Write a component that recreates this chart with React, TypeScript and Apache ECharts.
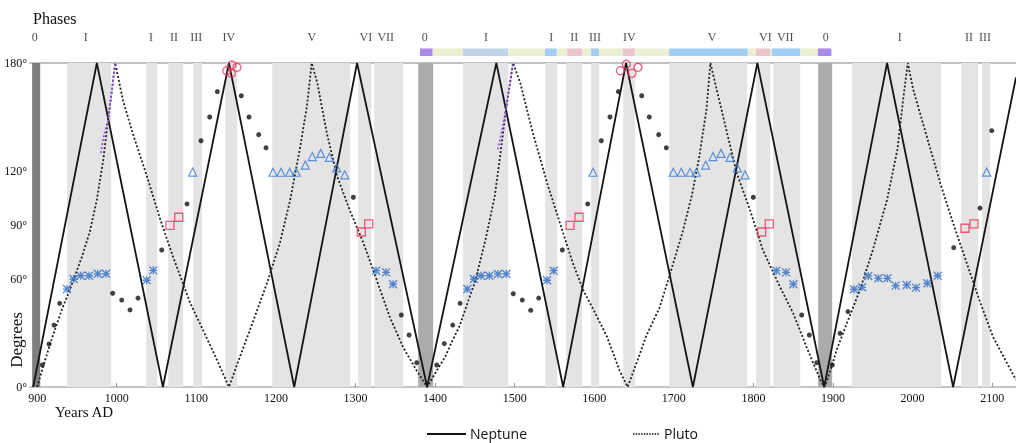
import React, { useEffect, useRef } from 'react';
import * as echarts from 'echarts';

const xTickValues = [900, 1000, 1100, 1200, 1300, 1400, 1500, 1600, 1700, 1800, 1900, 2000, 2100];
const yLabelValues = [0, 60, 90, 120, 180];

const neptune = [
  [895, 0], [975, 180], [1058, 0], [1141, 180], [1223, 0], [1302, 180], [1390, 0], [1477, 180],
  [1561, 0], [1640, 180], [1724, 0], [1805, 180], [1889, 0], [1968, 180], [2051, 0], [2130, 172],
];

const pluto = [
  [900, 0], [910, 15], [920, 29], [931, 43], [941, 54], [956, 72], [966, 86], [975, 104], [983, 126], [989, 148], [994, 165], [998, 180],
  [1008, 159], [1020, 141], [1038, 117], [1054, 94], [1071, 72], [1092, 47], [1108, 32], [1126, 15], [1141, 0],
  [1155, 17], [1171, 36], [1189, 58], [1205, 80], [1218, 104], [1230, 132], [1239, 156], [1245, 180],
  [1252, 169], [1264, 141], [1277, 117], [1293, 98], [1310, 80], [1327, 59], [1343, 39], [1360, 22], [1377, 9], [1390, 0],
  [1402, 9], [1413, 17], [1421, 25], [1431, 34], [1441, 47], [1450, 58], [1464, 83], [1475, 106], [1482, 129], [1489, 154], [1498, 180],
  [1507, 169], [1523, 141], [1541, 113], [1557, 91], [1573, 69], [1586, 54], [1599, 43], [1616, 28], [1632, 9], [1642, 0],
  [1657, 18], [1665, 28], [1682, 44], [1694, 61], [1711, 86], [1723, 107], [1732, 128], [1741, 154], [1746, 180],
  [1754, 165], [1767, 141], [1779, 119], [1796, 98], [1812, 76], [1833, 56], [1850, 41], [1867, 22], [1884, 4], [1889, 0],
  [1893, 4], [1905, 21], [1918, 36], [1934, 54], [1950, 76], [1968, 104], [1981, 132], [1988, 159], [1994, 180],
  [2001, 165], [2018, 139], [2035, 113], [2051, 91], [2068, 69], [2085, 47], [2101, 28], [2119, 13], [2130, 4],
];

const plutoHighlightA = [[980, 130], [983, 138], [989, 148], [994, 165], [998, 180]];
const plutoHighlightB = [[1479, 132], [1482, 138], [1489, 154], [1498, 180]];

const blackDots = [
  [906.5, 12.2], [914.9, 23.9], [921.2, 34.4], [928.3, 46.5], [994.9, 52.1], [1006.2, 48.3], [1016.7, 42.8], [1026.7, 49.4],
  [1056.5, 76.1], [1088.3, 101.7], [1105.9, 136.8], [1116.8, 150], [1126.4, 164.1], [1156.5, 161.8], [1166.2, 150],
  [1178.4, 140.2], [1187.6, 132.9], [1297.3, 105.4], [1357.6, 40], [1367.3, 28.9], [1376.9, 13.5],
  [1402.1, 12.2], [1411.6, 24.1], [1422.2, 34.4], [1431.4, 46.5], [1498.3, 51.8], [1509.6, 48.3], [1520.2, 42.6], [1530.2, 49.4],
  [1559.9, 76.1], [1591.8, 101.7], [1608.9, 136.8], [1619.8, 150], [1630.3, 164.1], [1659.7, 161.8], [1669.2, 150],
  [1681, 140.2], [1690.6, 132.9], [1799.9, 105.4], [1860.7, 40], [1870.3, 28.9], [1879.6, 13.5],
  [1899.2, 12.2], [1908.9, 29.8], [1918.9, 41.9], [2051.7, 77.4], [2084.8, 99.4], [2099.5, 142.4],
];

const asterisks = [
  [937.5, 54.4], [945.9, 60], [954.7, 61.8], [965.1, 61.8], [976.1, 62.9], [986.5, 62.9], [1037.6, 59.3], [1045.9, 64.8],
  [1325.8, 64.6], [1338.4, 63.7], [1347.2, 57.1],
  [1440.5, 54.4], [1448.9, 60], [1457.7, 61.8], [1468.2, 61.8], [1479.1, 62.8], [1489.5, 62.8], [1540.7, 59.3], [1549.1, 64.6],
  [1828.8, 64.6], [1841, 63.7], [1850.2, 57.1],
  [1926.5, 54.3], [1936.5, 55.4], [1944.4, 61.7], [1957, 60.4], [1968.3, 60.4], [1978.8, 56.3], [1992.7, 56.7], [2004.4, 55.2],
  [2018.5, 57.6], [2031.6, 61.8],
];

const triangles = [
  [1095.4, 119.4], [1196.4, 119.3], [1206.4, 119.3], [1217.3, 119.3], [1225.6, 119.3], [1236.9, 123.3], [1245.7, 128],
  [1256.3, 129.8], [1267.1, 127.6], [1276.4, 121.7], [1286.5, 117.9],
  [1598.5, 119.3], [1699.4, 119.3], [1709.4, 119.3], [1720.4, 119.3], [1728.3, 119.3], [1740.1, 123.3], [1749.3, 128],
  [1759.3, 129.8], [1770.6, 127.6], [1779.8, 121.7], [1789.5, 117.9],
  [2093.2, 119.4],
];

const squares = [
  [1066.9, 89.8], [1077.9, 94.3], [1307.3, 86.1], [1316.6, 90.6],
  [1569.6, 89.8], [1580.9, 94.3], [1810.4, 86.1], [1820, 90.6],
  [2065.9, 88.2], [2077.2, 90.6],
];

const circles = [
  [1138.2, 175.7], [1144.8, 178.9], [1144, 174.3], [1151.1, 177.6],
  [1632.8, 175.7], [1640.3, 179.3], [1647.5, 174.3], [1655, 177.6],
];

const darkBands = [[893.7, 903.8], [1378.8, 1397.6], [1881.4, 1899]];
const lightBands = [
  [937.7, 993], [1037, 1050.8], [1064.6, 1083.5], [1096, 1107.3], [1136.2, 1151.3], [1195.3, 1293.3], [1303.4, 1319.7],
  [1323.5, 1359.9], [1435.3, 1491.9], [1538.4, 1553.5], [1564.7, 1584.8], [1596.2, 1606.2], [1636.4, 1651.5],
  [1694.2, 1792.2], [1803.5, 1821.1], [1824.9, 1858.8], [1924.1, 2035.9], [2061.1, 2082.4], [2087.5, 2097.5],
];

const phaseBarFrom = [1381, 1397, 1435, 1492, 1538, 1553, 1566, 1585, 1596, 1606, 1636, 1651, 1694, 1793, 1803, 1821, 1823, 1859, 1881];
const phaseBarTo = [1397, 1435, 1492, 1538, 1553, 1566, 1585, 1596, 1606, 1636, 1651, 1694, 1793, 1803, 1821, 1823, 1859, 1881, 1898];
const phaseBarKind = ['zero', 'open', 'conj', 'open', 'blue', 'open', 'pink', 'open', 'blue', 'open', 'pink', 'open', 'blue', 'open', 'pink', 'open', 'blue', 'open', 'zero'];

const phaseLabelText = ['0', 'I', 'I', 'II', 'III', 'IV', 'V', 'VI', 'VII', '0', 'I', 'I', 'II', 'III', 'IV', 'V', 'VI', 'VII', '0', 'I', 'II', 'III'];
const phaseLabelYear = [897, 961, 1043, 1072, 1100, 1141, 1245, 1313, 1338, 1387, 1464, 1546, 1575, 1601, 1644, 1748, 1815, 1840, 1891, 1984, 2071, 2091];

const legendNames = ['Neptune', 'Pluto'];

export default function App() {
  const ref = useRef<HTMLDivElement>(null);
  useEffect(() => {
    const chart = echarts.init(ref.current!, null, { renderer: 'svg' });
    const serif = 'Liberation Serif';
    const kindColor: Record<string, string> = {
      zero: '#a98ae8', open: '#ecefd2', conj: '#bfd4e8', blue: '#a3cdf2', pink: '#ecc4cc',
    };
    const bandData = [
      ...darkBands.map(([a, b], i) => [{ xAxis: a, itemStyle: { color: i === 0 ? '#7e7e7e' : '#ababab' } }, { xAxis: b }]),
      ...lightBands.map(([a, b]) => [{ xAxis: a, itemStyle: { color: '#e4e4e4' } }, { xAxis: b }]),
    ];
    const phaseBar = phaseBarFrom.map((a, i) => [
      { xAxis: a, yAxis: 0, itemStyle: { color: kindColor[phaseBarKind[i]] } },
      { xAxis: phaseBarTo[i], yAxis: 0.27 },
    ]);
    const asteriskPath = 'path://M0,0L10,10M10,0L0,10M5,0L5,10M0,5L10,5';
    const option: any = {
      animation: false,
      grid: [
        { left: 30, right: 0, top: 63, bottom: 56 },
        { left: 30, right: 0, top: 28, height: 28 },
      ],
      xAxis: [
        {
          gridIndex: 0, type: 'value', min: 891, max: 2130,
          axisLine: { show: true, lineStyle: { color: '#c6c6c6', width: 2 } },
          axisTick: { show: true, inside: true, length: 4, customValues: xTickValues, lineStyle: { color: '#999' } },
          axisLabel: {
            customValues: xTickValues, formatter: (v: number) => String(v),
            fontFamily: serif, fontSize: 12, color: '#111', margin: 5,
          },
          splitLine: { show: false },
        },
        { gridIndex: 1, type: 'value', min: 891, max: 2130, show: false },
        {
          gridIndex: 0, type: 'value', min: 891, max: 2130, position: 'top',
          axisLine: { show: true, lineStyle: { color: '#c0c0c0', width: 2 } },
          axisTick: { show: false }, axisLabel: { show: false }, splitLine: { show: false },
        },
      ],
      yAxis: [
        {
          gridIndex: 0, type: 'value', min: 0, max: 180, interval: 30,
          axisLine: { show: false }, axisTick: { show: false }, splitLine: { show: false },
          axisLabel: {
            formatter: (v: number) => (yLabelValues.includes(v) ? v + '°' : ''),
            fontFamily: serif, fontSize: 12, color: '#111', margin: 3,
          },
        },
        { gridIndex: 1, type: 'value', min: 0, max: 1, show: false },
      ],
      graphic: [
        { type: 'text', left: 33, top: 10, style: { text: 'Phases', fontFamily: serif, fontSize: 16, fill: '#111' } },
        { type: 'text', left: 55, top: 404, style: { text: 'Years AD', fontFamily: serif, fontSize: 15, fill: '#111' } },
        {
          type: 'text', x: 16, y: 340, rotation: Math.PI / 2,
          style: { text: 'Degrees', fontFamily: serif, fontSize: 17, fill: '#111', align: 'center', verticalAlign: 'middle' },
        },
        { type: 'line', shape: { x1: 427, y1: 434, x2: 466, y2: 434 }, style: { stroke: '#111', lineWidth: 2 } },
        {
          type: 'text', x: 470, y: 433,
          style: { text: legendNames[0], fontFamily: 'Open Sans', fontSize: 14, fill: '#111', verticalAlign: 'middle' },
        },
        {
          type: 'line', shape: { x1: 633, y1: 434, x2: 660, y2: 434 },
          style: { stroke: '#111', lineWidth: 1.5, lineDash: [1.5, 1.2] },
        },
        {
          type: 'text', x: 664, y: 433,
          style: { text: legendNames[1], fontFamily: 'Open Sans', fontSize: 14, fill: '#111', verticalAlign: 'middle' },
        },
      ],
      series: [
        {
          type: 'line', xAxisIndex: 0, yAxisIndex: 0, data: [], z: 1, silent: true,
          markArea: { silent: true, data: bandData },
        },
        {
          type: 'line', xAxisIndex: 1, yAxisIndex: 1, data: [], z: 1, silent: true,
          markArea: { silent: true, data: phaseBar },
        },
        {
          type: 'scatter', xAxisIndex: 1, yAxisIndex: 1, symbolSize: 1, silent: true,
          itemStyle: { color: 'rgba(0,0,0,0)' },
          data: phaseLabelText.map((t, i) => ({ name: t, value: [phaseLabelYear[i], 0.68] })),
          label: {
            show: true, position: 'inside', formatter: (p: any) => p.name,
            fontFamily: serif, fontSize: 12, color: '#222',
          },
        },
        {
          name: legendNames[0], type: 'line', data: neptune, symbol: 'none', z: 3,
          lineStyle: { color: '#151515', width: 1.8 }, itemStyle: { color: '#151515' },
        },
        {
          name: legendNames[1], type: 'line', data: pluto, symbol: 'none', z: 3,
          lineStyle: { color: '#222', width: 1.8, type: [2, 2] }, itemStyle: { color: '#222' },
        },
        {
          type: 'line', data: plutoHighlightA, symbol: 'none', z: 4,
          lineStyle: { color: '#8a5ce0', width: 1.8, type: [2, 2] },
        },
        {
          type: 'line', data: plutoHighlightB, symbol: 'none', z: 4,
          lineStyle: { color: '#8a5ce0', width: 1.8, type: [2, 2] },
        },
        {
          type: 'scatter', data: blackDots, symbol: 'circle', symbolSize: 5, z: 5, clip: false,
          itemStyle: { color: '#111' },
        },
        {
          type: 'scatter', data: asterisks, symbol: asteriskPath, symbolSize: 8, z: 5, clip: false,
          itemStyle: { color: 'rgba(0,0,0,0)', borderColor: '#2f6cc4', borderWidth: 1.3 },
        },
        {
          type: 'scatter', data: triangles, symbol: 'triangle', symbolSize: 8, z: 5, clip: false,
          itemStyle: { color: 'rgba(0,0,0,0)', borderColor: '#3b7bd0', borderWidth: 1.2 },
        },
        {
          type: 'scatter', data: squares, symbol: 'rect', symbolSize: 8, z: 5, clip: false,
          itemStyle: { color: 'rgba(0,0,0,0)', borderColor: '#e8365a', borderWidth: 1.3 },
        },
        {
          type: 'scatter', data: circles, symbol: 'circle', symbolSize: 8, z: 5, clip: false,
          itemStyle: { color: 'rgba(0,0,0,0)', borderColor: '#e8365a', borderWidth: 1.3 },
        },
      ],
    };
    chart.setOption(option);
    return () => chart.dispose();
  }, []);
  return <div ref={ref} style={{ position: 'fixed', left: 0, top: 0, width: 1016, height: 443 }} />;
}
